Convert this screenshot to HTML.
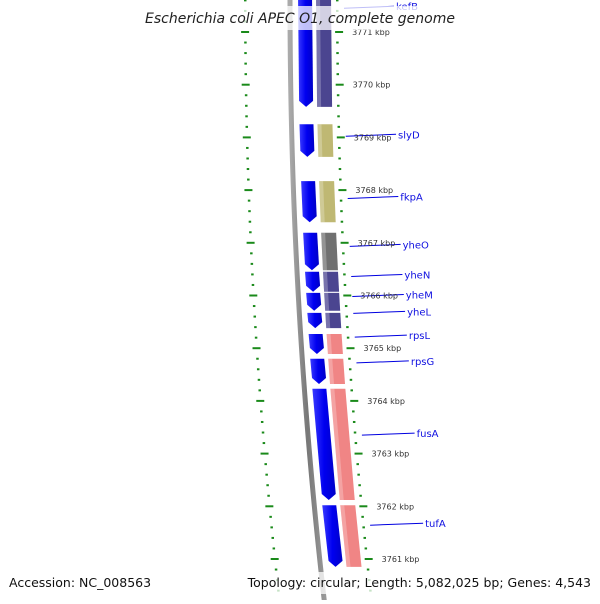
<!DOCTYPE html>
<html><head><meta charset="utf-8"><style>
body{margin:0;background:#fff;width:600px;height:600px;overflow:hidden;font-family:"DejaVu Sans","Liberation Sans",sans-serif}
</style></head><body>
<svg id="map" width="600" height="600" viewBox="0 0 600 600" xmlns="http://www.w3.org/2000/svg">
<defs>
<linearGradient id="gBlue" x1="0" x2="1"><stop offset="0" stop-color="#3a3aff"/><stop offset="0.5" stop-color="#0000f0"/><stop offset="1" stop-color="#0000c8"/></linearGradient>
<linearGradient id="gGray" x1="0" x2="1"><stop offset="0" stop-color="#aaa"/><stop offset="0.5" stop-color="#777"/><stop offset="1" stop-color="#999"/></linearGradient>
</defs>
<g id="layer"></g>
</svg>
<script>
// data (kbp coordinates)
const kbpTicks = [3771,3770,3769,3768,3767,3766,3765,3764,3763,3762,3761];
const geneNames = ["kefB","slyD","fkpA","yheO","yheN","yheM","yheL","rpsL","rpsG","fusA","tufA"];
const geneStart = [3771.7,3769.25,3768.17,3767.19,3766.45,3766.05,3765.67,3765.27,3764.80,3764.23,3762.02];
const geneEnd   = [3769.58,3768.63,3767.39,3766.48,3766.07,3765.71,3765.38,3764.89,3764.32,3762.12,3760.85];
const geneClass = ["purple","khaki","khaki","gray","purple","purple","purple","salmon","salmon","salmon","salmon"];
const labelKbp  = [3771.47,3769.04,3767.86,3766.95,3766.38,3766.0,3765.68,3765.23,3764.74,3763.37,3761.66];

const classColor={purple:"#4b4590",khaki:"#bfb873",gray:"#707070",salmon:"#f08585"};
const NS="http://www.w3.org/2000/svg";
const layer=document.getElementById('layer');
const yOf=k=>32+(3771-k)*52.7;
const dx=y=>9.5e-5*y*y;
function mk(tag,attrs,parent){const e=document.createElementNS(NS,tag);for(const k in attrs)e.setAttribute(k,attrs[k]);(parent||layer).appendChild(e);return e;}

// backbone gray line
let pts=[];for(let y=-5;y<=605;y+=10)pts.push((290+dx(y))+","+y);
const bb=mk('polyline',{points:pts.join(' '),fill:'none',stroke:'url(#gGray)','stroke-width':5});



// ticks
const minor=[];for(let k=3771.6;k>=3760.4;k-=0.2)minor.push(Math.round(k*10)/10);
minor.forEach(k=>{
  const y=yOf(k);const major=Math.abs(k-Math.round(k))<0.01;
  const l=mk('line',{x1:(major?241:244)+dx(y),x2:(major?249:246.5)+dx(y),y1:y,y2:y,stroke:'#1a8a1a','stroke-width':2});
  
  
  const r=mk('line',{x1:(major?335:336)+dx(y),x2:(major?343:338.5)+dx(y),y1:y,y2:y,stroke:'#1a8a1a','stroke-width':2});
  
  
});

// genes
geneNames.forEach((n,i)=>{
  const y1=yOf(geneStart[i]),y2=yOf(geneEnd[i]);
  const a=dx(y1),b=dx(y2);
  const p=mk('polygon',{points:`${298+a},${y1} ${312+a},${y1} ${312+b},${y2-6} ${305+b},${y2} ${298+b},${y2-6}`,fill:'url(#gBlue)'});
  
  
  const c=classColor[geneClass[i]];
  const q=mk('polygon',{points:`${316+a},${y1} ${331+a},${y1} ${331+b},${y2} ${316+b},${y2}`,fill:c});
  
  
  const s=mk('polygon',{points:`${316+a},${y1} ${320+a},${y1} ${320+b},${y2} ${316+b},${y2}`,fill:'#fff',opacity:0.25});
  
  
  const ly=yOf(labelKbp[i]);const d=dx(ly);
  const ln=mk('line',{x1:344+d,y1:ly+1,x2:394+d+(i*0.3),y2:ly-1,stroke:'#0000e0','stroke-width':1});
  
  
  const t=mk('text',{x:396+d+(i*0.3),y:ly+3,'font-size':10,fill:'#1010e0'});
  t.textContent=n;
  
  
});

// kbp labels
kbpTicks.forEach(k=>{
  const y=yOf(k);
  const t=mk('text',{x:352+dx(y),y:y+3,'font-size':8,fill:'#333'});
  t.textContent=k+' kbp';
  
  
});

// title
const tb=mk('rect',{x:145,y:6,width:310,height:24,fill:'#fff',opacity:0.75});


const titleEl=mk('text',{x:300,y:23,'text-anchor':'middle','font-size':14,'font-style':'italic',fill:'#222'});
titleEl.textContent='Escherichia coli APEC O1, complete genome';


const fb=mk('rect',{x:255,y:572,width:345,height:22,fill:'#fff',opacity:0.75});


const accText=mk('text',{x:9,y:587,'font-size':12.5,fill:'#111'});
accText.textContent='Accession: NC_008563';


const topoText=mk('text',{x:591,y:587,'text-anchor':'end','font-size':12.5,fill:'#111'});
topoText.textContent='Topology: circular; Length: 5,082,025 bp; Genes: 4,543';


</script>
</body></html>
